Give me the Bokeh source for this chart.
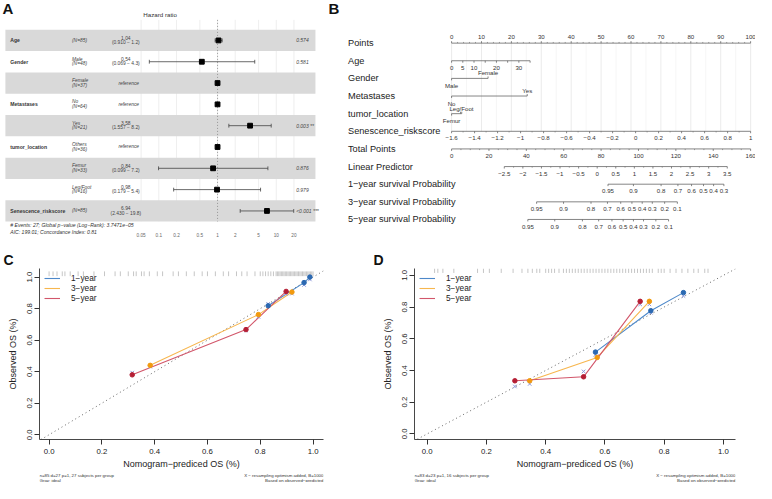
import numpy as np
from bokeh.plotting import figure
from bokeh.layouts import row, column
from bokeh.models import (Range1d, Legend, LegendItem, FixedTicker, PrintfTickFormatter)
from bokeh.core.properties import value
from bokeh.embed import file_html
from bokeh.resources import INLINE

FONT = "Liberation Sans"

# ---------------- Panel A: multivariate Cox forest plot ----------------
a_vars = ["Age", "Gender", "", "Metastases", "", "tumor_location", "", "", "Senescence_riskscore"]
a_levels = ["", "Male", "Female", "No", "Yes", "Others", "Femur", "Leg/Foot", ""]
a_n = [85, 48, 37, 64, 21, 36, 33, 16, 85]
a_hr = [1.04, 0.54, 1.0, 1.0, 3.58, 1.0, 0.84, 0.98, 6.94]
a_lo = [0.910, 0.069, None, None, 1.557, None, 0.099, 0.179, 2.430]
a_hi = [1.2, 4.3, None, None, 8.2, None, 7.2, 5.4, 19.8]
a_p = ["0.574", "0.581", "", "", "0.003 **", "", "0.876", "0.979", "<0.001 ***"]
a_ticks = [0.05, 0.1, 0.2, 0.5, 1, 2, 5, 10, 20]
a_tick_labels = ["0.05", "0.1", "0.2", "0.5", "1", "2", "5", "10", "20"]
a_footer = ["# Events: 27; Global p−value (Log−Rank): 3.7471e−05",
            "AIC: 199.01; Concordance Index: 0.81"]

# ---------------- Panel B: nomogram ----------------
b_rows = ["Points", "Age", "Gender", "Metastases", "tumor_location", "Senescence_riskscore",
          "Total Points", "Linear Predictor", "1−year survival Probability",
          "3−year survival Probability", "5−year survival Probability"]
b_points_ticks = [0, 10, 20, 30, 40, 50, 60, 70, 80, 90, 100]
b_age_vals = [0, 5, 10, 15, 20, 25, 30, 35]
b_age_points = [0, 3.75, 7.5, 11.25, 15, 18.75, 22.5, 26.25]
b_age_labeled = [0, 5, 10, 20, 30]
b_gender_levels = ["Male", "Female"]
b_gender_points = [0, 12.2]
b_meta_levels = ["No", "Yes"]
b_meta_points = [0, 25.3]
b_loc_levels = ["Femur", "Leg/Foot", "Others"]
b_loc_points = [0, 3.0, 3.4]
b_score_vals = [-1.6, -1.4, -1.2, -1.0, -0.8, -0.6, -0.4, -0.2, 0, 0.2, 0.4, 0.6, 0.8, 1.0]
b_score_labels = ["−1.6", "−1.4", "−1.2", "−1", "−0.8", "−0.6", "−0.4", "−0.2", "0",
                  "0.2", "0.4", "0.6", "0.8", "1"]
b_total_ticks = [0, 20, 40, 60, 80, 100, 120, 140, 160]
b_lp_vals = [-2.5, -2, -1.5, -1, -0.5, 0, 0.5, 1, 1.5, 2, 2.5, 3, 3.5]
b_lp_labels = ["−2.5", "−2", "−1.5", "−1", "−0.5", "0", "0.5", "1", "1.5", "2", "2.5", "3", "3.5"]
b_lp_total_range = (28.2, 147.5)  # total points at LP = -2.5 and 3.5
b_s1_vals = ["0.95", "0.9", "0.8", "0.7", "0.6", "0.5", "0.4", "0.3"]
b_s1_total = [83.7, 97.3, 112.1, 121.1, 128.4, 134.8, 140.2, 145.7]
b_s3_vals = ["0.95", "0.9", "0.8", "0.7", "0.6", "0.5", "0.4", "0.3", "0.2", "0.1"]
b_s3_total = [45.5, 59.9, 74.6, 83.4, 90.5, 96.5, 102.0, 107.4, 114.0, 120.8]
b_s5_vals = ["0.95", "0.9", "0.8", "0.7", "0.6", "0.5", "0.4", "0.3", "0.2", "0.1"]
b_s5_total = [40.8, 55.2, 70.0, 78.7, 85.8, 91.8, 97.3, 102.7, 109.3, 116.1]

# ---------------- Panel C: calibration (cohort 1) ----------------
c_1y_pred = [0.830, 0.966, 0.988]
c_1y_obs = [0.818, 0.965, 1.000]
c_1y_corr = [0.830, 0.950, 0.985]
c_3y_pred = [0.383, 0.793, 0.920]
c_3y_obs = [0.440, 0.762, 0.905]
c_3y_corr = [0.432, 0.748, 0.895]
c_5y_pred = [0.315, 0.746, 0.898]
c_5y_obs = [0.380, 0.667, 0.909]
c_5y_corr = [0.394, 0.662, 0.893]
c_rug = [0.00, 0.015, 0.03, 0.05, 0.06, 0.08, 0.11, 0.13, 0.17, 0.21, 0.25, 0.27, 0.30, 0.32,
         0.33, 0.35, 0.36, 0.38, 0.41, 0.43, 0.47, 0.49, 0.52, 0.55, 0.58, 0.60, 0.63, 0.66,
         0.68, 0.71, 0.73, 0.75, 0.78, 0.80, 0.81, 0.82, 0.83, 0.84, 0.85, 0.86, 0.865, 0.87,
         0.875, 0.88, 0.885, 0.89, 0.895, 0.90, 0.905, 0.91, 0.915, 0.92, 0.925, 0.93, 0.935,
         0.94, 0.945, 0.95, 0.955, 0.96, 0.965, 0.97, 0.975, 0.98, 0.985, 0.99, 0.995, 1.0]
c_footer_left = ["n=85 d=27 p=1, 27 subjects per group", "Gray: ideal"]

# ---------------- Panel D: calibration (cohort 2) ----------------
d_1y_pred = [0.568, 0.755, 0.865]
d_1y_obs = [0.516, 0.777, 0.891]
d_1y_corr = [0.498, 0.764, 0.870]
d_3y_pred = [0.346, 0.574, 0.750]
d_3y_obs = [0.335, 0.482, 0.836]
d_3y_corr = [0.315, 0.490, 0.817]
d_5y_pred = [0.296, 0.528, 0.719]
d_5y_obs = [0.335, 0.360, 0.836]
d_5y_corr = [0.299, 0.394, 0.817]
d_rug = [0.025, 0.036, 0.053, 0.09, 0.17, 0.19, 0.21, 0.25, 0.29, 0.32, 0.34, 0.355, 0.37,
         0.38, 0.40, 0.41, 0.42, 0.43, 0.445, 0.46, 0.47, 0.48, 0.49, 0.50, 0.51, 0.52, 0.53,
         0.54, 0.55, 0.56, 0.57, 0.58, 0.59, 0.60, 0.61, 0.62, 0.63, 0.64, 0.65, 0.66, 0.67,
         0.68, 0.69, 0.70, 0.71, 0.72, 0.73, 0.74, 0.75, 0.76, 0.78, 0.79, 0.80, 0.82, 0.84,
         0.86, 0.88, 0.90, 0.915, 0.937, 0.948]
d_footer_left = ["n=83 d=23 p=1, 16 subjects per group", "Gray: ideal"]

cal_footer_right = ["X − resampling optimism added, B=1000", "Based on observed−predicted"]
cal_years = ["1−year", "3−year", "5−year"]
cal_ticks = [0.0, 0.2, 0.4, 0.6, 0.8, 1.0]

COL_LINE = ["#4D88C9", "#F7B64E", "#D2566A"]
COL_PT = ["#2B69B2", "#F29A0E", "#B51E34"]
COL_X = "#8E98DA"


def txt(p, x, y, t, size, align="left", style="normal", color="#222222", baseline="middle"):
    p.text(x=x, y=y, text=t, text_font=value(FONT), text_font_size=size,
           text_font_style=style, text_align=align, text_baseline=baseline, text_color=color)


def blank_fig(w, h, xr, yr, **kw):
    p = figure(width=w, height=h, x_range=Range1d(*xr), y_range=Range1d(*yr),
               x_axis_location=None, y_axis_location=None, min_border=0,
               output_backend="svg", toolbar_location=None, **kw)
    p.outline_line_color = None
    p.grid.visible = False
    return p


# ======================= Panel A =======================
def A_x(px):
    return 10 ** ((px - 221.7) / 60.0)


def A_y(py):
    return 1 + (py - 41.2) / 22.0


pA = blank_fig(326, 249, (A_x(0), A_x(333)), (A_y(257), A_y(0)), x_axis_type="log")
rowsA = list(range(1, 10))
pA.segment(x0=a_ticks, x1=a_ticks, y0=[A_y(20)] * len(a_ticks), y1=[A_y(228)] * len(a_ticks),
           line_color="#E3E3E3", line_width=0.6)
band_rows = [r for r in rowsA if r % 2 == 1]
pA.quad(left=A_x(5), right=A_x(321.7), top=[r - 0.5 for r in band_rows],
        bottom=[r + 0.5 for r in band_rows], fill_color="#D9D9D9", line_color=None)
pA.segment(x0=[1], x1=[1], y0=[A_y(20)], y1=[A_y(228)], line_color="#777777",
           line_width=0.7, line_dash="1 2")
ci_r = [r for r, lo in zip(rowsA, a_lo) if lo is not None]
ci_lo = [lo for lo in a_lo if lo is not None]
ci_hi = [hi for hi in a_hi if hi is not None]
pA.segment(x0=ci_lo, x1=ci_hi, y0=ci_r, y1=ci_r, line_color="#444444", line_width=0.8)
for xs in (ci_lo, ci_hi):
    pA.segment(x0=xs, x1=xs, y0=[r - 0.09 for r in ci_r], y1=[r + 0.09 for r in ci_r],
               line_color="#444444", line_width=0.8)
pA.scatter(x=a_hr, y=rowsA, marker="square", size=4.8, fill_color="black", line_color="black")

# table text
nm_r = [r for r, v in zip(rowsA, a_vars) if v]
txt(pA, [A_x(10)] * len(nm_r), nm_r, [v for v in a_vars if v], "5.1px", style="bold", color="#333333")
one_r = [r for r, l in zip(rowsA, a_levels) if not l]
txt(pA, [A_x(73)] * len(one_r), one_r,
    [f"(N={n})" for n, l in zip(a_n, a_levels) if not l], "4.9px", style="italic", color="#444444")
two_r = [r for r, l in zip(rowsA, a_levels) if l]
txt(pA, [A_x(73)] * len(two_r), [r - 0.12 for r in two_r], [l for l in a_levels if l],
    "4.9px", style="italic", color="#444444")
txt(pA, [A_x(73)] * len(two_r), [r + 0.10 for r in two_r],
    [f"(N={n})" for n, l in zip(a_n, a_levels) if l], "4.9px", style="italic", color="#444444")
ref_r = [r for r, lo in zip(rowsA, a_lo) if lo is None]
txt(pA, [A_x(131)] * len(ref_r), ref_r, ["reference"] * len(ref_r), "4.9px", align="center",
    style="italic", color="#444444")
txt(pA, [A_x(128)] * len(ci_r), [r - 0.12 for r in ci_r],
    [f"{h:.2f}" for h, lo in zip(a_hr, a_lo) if lo is not None], "4.9px", align="center",
    color="#444444")
txt(pA, [A_x(128)] * len(ci_r), [r + 0.10 for r in ci_r],
    [f"({lo:.3f} − {hi})" for lo, hi in zip(ci_lo, ci_hi)], "4.9px", align="center",
    color="#444444")
p_r = [r for r, pv in zip(rowsA, a_p) if pv]
txt(pA, [A_x(302)] * len(p_r), p_r, [pv for pv in a_p if pv], "5px", style="italic",
    color="#444444")
txt(pA, [A_x(163)], [A_y(14)], ["Hazard ratio"], "6.2px", align="center", color="#333333")
txt(pA, a_ticks, [A_y(242)] * len(a_ticks), a_tick_labels, "4.7px", align="center",
    color="#666666")
txt(pA, [A_x(10), A_x(10)], [A_y(232), A_y(238.7)], a_footer, "5.1px", style="italic",
    color="#333333")
txt(pA, [A_x(2)], [A_y(8)], ["A"], "15px", style="bold", color="#111111")

# ======================= Panel B =======================
def B_x(px):
    return (px - 461.0) / 3.06


def B_y(py):
    return (py - 44.0) / 18.2


pB = blank_fig(429, 249, (B_x(333), B_x(772)), (B_y(257), B_y(0)))
AXC = "#666666"
TKC = "#333333"
TK = 0.11
BELOW = 0.40
ABOVE = -0.32
TFS = "6.1px"

maj5 = [5, 15, 25, 35, 45, 55, 65, 75, 85, 95]
pB.segment(x0=maj5, x1=maj5, y0=[0] * len(maj5), y1=[5] * len(maj5), line_color="#F0F0F0",
           line_width=0.6)
pB.segment(x0=b_points_ticks, x1=b_points_ticks, y0=[0] * len(b_points_ticks),
           y1=[5] * len(b_points_ticks), line_color="#DDDDDD", line_width=0.6)


def nomo_axis(r, pos, labels, label_pos=None, minor=(), above=False):
    allp = list(pos) + list(minor)
    pB.segment(x0=[min(allp)], x1=[max(allp)], y0=[r], y1=[r], line_color=AXC, line_width=0.8)
    d = -1 if above else 1
    pB.segment(x0=pos, x1=pos, y0=[r] * len(pos), y1=[r + d * TK] * len(pos),
               line_color=AXC, line_width=0.8)
    if minor:
        pB.segment(x0=list(minor), x1=list(minor), y0=[r] * len(minor),
                   y1=[r + d * TK * 0.6] * len(minor), line_color=AXC, line_width=0.6)
    lp = pos if label_pos is None else label_pos
    txt(pB, lp, [r + (ABOVE if above else BELOW)] * len(lp), labels, TFS, align="center",
        color=TKC)


txt(pB, [B_x(355)] * len(b_rows), list(range(len(b_rows))), b_rows, "9.2px", color="#222222")

# Points
nomo_axis(0, b_points_ticks, [str(v) for v in b_points_ticks],
          minor=[v + 0.0 for v in range(0, 101, 2) if v % 10], above=True)
# Age
age_map = dict(zip(b_age_vals, b_age_points))
nomo_axis(1, b_age_points, [str(v) for v in b_age_labeled],
          label_pos=[age_map[v] for v in b_age_labeled])
# Gender
pB.segment(x0=[min(b_gender_points)], x1=[max(b_gender_points)], y0=[2], y1=[2],
           line_color=AXC, line_width=0.8)
pB.segment(x0=b_gender_points, x1=b_gender_points, y0=[2, 2], y1=[2 + TK, 2 - TK],
           line_color=AXC, line_width=0.8)
txt(pB, [b_gender_points[0]], [2 + BELOW], [b_gender_levels[0]], TFS, align="center", color=TKC)
txt(pB, [b_gender_points[1]], [2 + ABOVE], [b_gender_levels[1]], TFS, align="center", color=TKC)
# Metastases
pB.segment(x0=[min(b_meta_points)], x1=[max(b_meta_points)], y0=[3], y1=[3],
           line_color=AXC, line_width=0.8)
pB.segment(x0=b_meta_points, x1=b_meta_points, y0=[3, 3], y1=[3 + TK, 3 - TK],
           line_color=AXC, line_width=0.8)
txt(pB, [b_meta_points[0]], [3 + BELOW], [b_meta_levels[0]], TFS, align="center", color=TKC)
txt(pB, [b_meta_points[1]], [3 + ABOVE], [b_meta_levels[1]], TFS, align="center", color=TKC)
# tumor_location
pB.segment(x0=[min(b_loc_points)], x1=[max(b_loc_points)], y0=[4], y1=[4],
           line_color=AXC, line_width=0.8)
pB.segment(x0=b_loc_points, x1=b_loc_points, y0=[4, 4, 4], y1=[4 + TK, 4 - TK, 4 - TK],
           line_color=AXC, line_width=0.8)
txt(pB, [b_loc_points[0]], [4 + BELOW], [b_loc_levels[0]], TFS, align="center", color=TKC)
txt(pB, [b_loc_points[1] + 0.3], [4 + ABOVE], [b_loc_levels[1]], TFS, align="center", color=TKC)
# Senescence riskscore (linear, -1.6 -> 0 points, 1.0 -> 100 points)
score_pos = [(v - b_score_vals[0]) / (b_score_vals[-1] - b_score_vals[0]) * 100 for v in b_score_vals]
score_minor = [(a + b) / 2 for a, b in zip(score_pos[:-1], score_pos[1:])]
nomo_axis(5, score_pos, b_score_labels, minor=score_minor)
# Total points (0-160 over the same width as 0-100 points)
tot = lambda t: t * 100.0 / 160.0
total_minor = [tot(v) for v in range(0, 161, 5) if v % 20]
nomo_axis(6, [tot(v) for v in b_total_ticks], [str(v) for v in b_total_ticks], minor=total_minor)
# Linear predictor
t0, t1 = b_lp_total_range
lp_pos = [tot(t0 + (v - b_lp_vals[0]) * (t1 - t0) / (b_lp_vals[-1] - b_lp_vals[0])) for v in b_lp_vals]
lp_minor = [(a + b) / 2 for a, b in zip(lp_pos[:-1], lp_pos[1:])]
nomo_axis(7, lp_pos, b_lp_labels, minor=lp_minor)
# survival probabilities
nomo_axis(8, [tot(v) for v in b_s1_total], b_s1_vals)
nomo_axis(9, [tot(v) for v in b_s3_total], b_s3_vals)
nomo_axis(10, [tot(v) for v in b_s5_total], b_s5_vals)
txt(pB, [B_x(335)], [B_y(8)], ["B"], "15px", style="bold", color="#111111")


# ======================= Panels C & D =======================
def calib(w, h, xr, yr, borders, series, rug, rug_y, footer_left, letter, letter_x):
    p = figure(width=w, height=h, x_range=Range1d(*xr), y_range=Range1d(*yr),
               min_border_left=borders[0], min_border_right=borders[1],
               min_border_top=borders[2], min_border_bottom=borders[3],
               output_backend="svg", toolbar_location=None)
    p.outline_line_color = None
    p.grid.visible = False
    p.title.text = letter
    p.title.text_font = FONT
    p.title.text_font_size = "14px"
    p.title.text_font_style = "bold"
    p.title.text_color = "#111111"
    p.title.align = "left"
    p.title.offset = letter_x - borders[0]
    p.title.standoff = 1
    for ax in (p.xaxis[0], p.yaxis[0]):
        ax.ticker = FixedTicker(ticks=cal_ticks)
        ax.formatter = PrintfTickFormatter(format="%.1f")
        ax.major_label_text_font = FONT
        ax.major_label_text_font_size = "7.8px"
        ax.major_label_text_color = "#222222"
        ax.axis_label_text_font = FONT
        ax.axis_label_text_font_size = "9px"
        ax.axis_label_text_font_style = "normal"
        ax.axis_label_text_color = "#222222"
        ax.axis_line_color = "#333333"
        ax.axis_line_width = 0.9
        ax.major_tick_line_color = "#333333"
        ax.minor_tick_line_color = None
        ax.major_tick_out = 5
        ax.major_tick_in = 0
    p.xaxis.axis_label = "Nomogram−prediced OS (%)"
    p.yaxis.axis_label = "Observed OS (%)"
    p.xaxis.major_label_standoff = 4
    p.xaxis.axis_label_standoff = 2
    p.yaxis.major_label_standoff = 2
    p.yaxis.axis_label_standoff = 7
    p.yaxis.major_label_orientation = "vertical"

    p.line([-0.2, 1.3], [-0.2, 1.3], line_color="#666666", line_width=1, line_dash="1 3")
    p.segment(x0=rug, x1=rug, y0=[rug_y[0]] * len(rug), y1=[rug_y[1]] * len(rug),
              line_color="#A0A0A0", line_width=0.6)
    items = []
    for i, (pred, obs, corr) in enumerate(series):
        ln = p.line(pred, obs, line_color=COL_LINE[i], line_width=1.1)
        items.append(LegendItem(label=cal_years[i], renderers=[ln]))
    for i, (pred, obs, corr) in enumerate(series):
        p.scatter(pred, corr, marker="x", size=5, line_color=COL_X, line_width=1)
    for i, (pred, obs, corr) in enumerate(series):
        p.scatter(pred, obs, marker="circle", size=4.5, fill_color=COL_PT[i], line_color=COL_PT[i])
    leg = Legend(items=items, location="top_left", border_line_color=None,
                 background_fill_alpha=0, label_text_font=FONT, label_text_font_size="8.3px",
                 label_text_color="#222222", glyph_width=16, glyph_height=10, label_height=10,
                 spacing=0, padding=1, margin=5, label_standoff=11)
    p.add_layout(leg)

    # footnotes in a thin strip under the plot, aligned with the frame
    fh = 11
    f = blank_fig(w, fh, xr, (fh, 0))
    f.min_border_left = borders[0]
    f.min_border_right = borders[1]
    txt(f, [xr[0], xr[0]], [3.2, 8.2], footer_left, "4.4px", color="#333333")
    txt(f, [xr[1], xr[1]], [3.2, 8.2], cal_footer_right, "4.4px", align="right",
        color="#333333")
    return column(p, f)


pC = calib(370, 222, (-0.0363, 1.0396), (-0.0303, 1.0545), (39, 47, 18, 31),
           [(c_1y_pred, c_1y_obs, c_1y_corr), (c_3y_pred, c_3y_obs, c_3y_corr),
            (c_5y_pred, c_5y_obs, c_5y_corr)],
           c_rug, (1.006, 1.036), c_footer_left, "C", 3)
pD = calib(385, 222, (-0.0428, 1.0408), (-0.0354, 1.0431), (44, 20, 17, 31),
           [(d_1y_pred, d_1y_obs, d_1y_corr), (d_3y_pred, d_3y_obs, d_3y_corr),
            (d_5y_pred, d_5y_obs, d_5y_corr)],
           d_rug, (1.015, 1.043), d_footer_left, "D", 3)

layout = column(row(pA, pB), row(pC, pD))
open("out.html", "w").write(file_html(layout, INLINE))
